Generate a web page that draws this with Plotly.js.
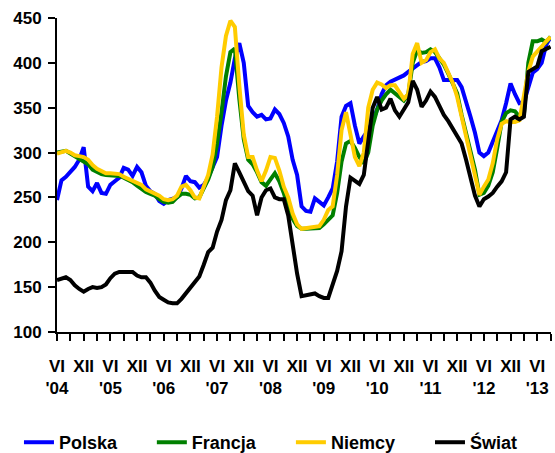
<!DOCTYPE html>
<html>
<head>
<meta charset="utf-8">
<script src="https://cdn.plot.ly/plotly-3.0.1.min.js"></script>
<style>html,body{margin:0;padding:0;background:#fff;}#chart{width:555px;height:453px;}</style>
</head>
<body>
<div id="chart"></div>
<script>
// month index 0 = June 2004 (VI '04), one point per month up to Sept 2013
var polska = [247,269,273,278,284,292,306,262,257,266,255,254,264,268,272,283,281,274,284,278,
  263,257,254,246,243,247,248,250,260,274,268,267,261,264,272,285,295,330,358,378,
  405,422,400,352,345,340,342,337,338,348,343,333,318,292,275,240,235,234,249,245,
  241,250,260,290,340,352,355,330,310,318,325,335,348,365,375,379,381,384,386,390,
  394,398,401,402,405,405,395,381,381,382,381,373,358,340,322,300,296,300,312,325,
  336,355,377,365,355,356,372,389,393,400,420,429];
var francja = [300,301,302,299,296,293,291,287,281,278,276,275,275,274,274,272,270,267,263,259,
  256,254,252,248,245,244,245,250,254,254,253,249,250,260,270,284,310,345,385,412,
  416,360,315,292,287,278,267,263,270,277,268,255,238,226,218,215,215,215,215,216,
  220,225,230,255,290,310,313,305,295,288,300,330,348,358,365,370,366,362,358,365,
  400,414,411,412,415,412,405,398,388,378,366,342,322,303,281,253,255,263,278,305,
  334,344,347,346,340,342,400,424,424,426,423,429];
var niemcy = [299,301,302,300,297,296,295,292,286,282,279,277,277,277,276,273,271,269,267,264,
  259,257,255,252,248,247,248,252,262,264,258,250,249,262,275,298,340,395,430,447,
  440,375,320,295,295,280,268,280,295,294,280,262,250,232,220,215,216,217,218,218,
  225,236,240,275,325,345,320,295,285,300,350,370,378,376,372,375,375,368,360,365,
  410,422,400,403,412,415,405,400,390,378,362,340,318,300,277,253,262,270,288,315,
  332,335,334,334,336,365,390,407,412,418,424,429];
var swiat = [158,159,161,158,152,148,145,148,150,149,150,153,160,165,167,167,167,167,163,161,
  161,155,146,139,136,133,132,132,137,143,149,155,162,175,189,194,212,225,247,258,
  288,278,268,257,252,230,250,258,260,250,248,248,230,195,165,140,141,141,143,140,
  138,138,152,168,190,240,272,268,265,275,311,350,362,348,350,360,347,340,348,356,
  380,370,351,358,368,362,352,342,335,326,318,310,292,272,252,240,248,251,255,262,
  268,278,337,340,337,340,390,393,396,413,416,418];

var seriesNames = ['Polska','Francja','Niemcy','Świat'];
var seriesColors = ['#0000FF','#008000','#FFCC00','#000000'];
var seriesData = [polska, francja, niemcy, swiat];

var monthTickLabels = ['VI','XII','VI','XII','VI','XII','VI','XII','VI','XII','VI','XII','VI','XII','VI','XII','VI','XII','VI'];
var yearTickLabels = ["'04","'05","'06","'07","'08","'09","'10","'11","'12","'13"];
var yTicks = [100,150,200,250,300,350,400,450];

var months = polska.map(function(_, i){ return i; });
var monthTickVals = monthTickLabels.map(function(_, i){ return i*6; });
var yearTickVals = yearTickLabels.map(function(_, i){ return i*12; });

var font = 'Arial, "Liberation Sans", sans-serif';
var legendIds = ['legend','legend2','legend3','legend4'];
var legendX = [-0.077, 0.192, 0.4735, 0.755];
var traces = seriesData.map(function(vals, k){
  return {x: months, y: vals, type: 'scatter', mode: 'lines', name: seriesNames[k],
    xaxis: k === 3 ? 'x2' : 'x', legend: legendIds[k],
    line: {color: seriesColors[k], width: 4}};
});
var xr = [0, 111.1];
var layout = {
  width: 555, height: 453,
  margin: {l: 57, r: 4, t: 18, b: 121, autoexpand: false},
  paper_bgcolor: '#fff', plot_bgcolor: '#fff',
  font: {family: font, size: 17, color: '#000'},
  showlegend: true,
  xaxis: {range: xr, showgrid: false, zeroline: false, showline: true, linecolor: '#000', linewidth: 2,
    tickmode: 'array', tickvals: monthTickVals, ticktext: monthTickLabels,
    ticks: 'outside', ticklen: 7, tickwidth: 2, tickcolor: '#000', ticklabelstandoff: 11,
    minor: {dtick: 3, tick0: 0, ticks: 'outside', ticklen: 7, tickwidth: 2, tickcolor: '#000', showgrid: false},
    tickfont: {family: font, size: 17, color: '#000', weight: 'bold'}, fixedrange: true},
  xaxis2: {range: xr, overlaying: 'x', anchor: 'y', side: 'bottom', showgrid: false, zeroline: false,
    showline: false, ticks: '', tickmode: 'array', tickvals: yearTickVals, ticktext: yearTickLabels,
    ticklabelstandoff: 44, tickfont: {family: font, size: 17, color: '#000', weight: 'bold'}, fixedrange: true},
  yaxis: {range: [100, 450], tickmode: 'array', tickvals: yTicks, showgrid: false, zeroline: false,
    showline: true, linecolor: '#000', linewidth: 2, ticks: 'outside', ticklen: 7, tickwidth: 2, tickcolor: '#000',
    ticklabelstandoff: 3,
    tickfont: {family: font, size: 17, color: '#000', weight: 'bold'}, fixedrange: true}
};
legendIds.forEach(function(id, k){
  layout[id] = {orientation: 'h', x: legendX[k], xanchor: 'left', y: -0.352, yanchor: 'middle',
    font: {family: font, size: 18, color: '#000', weight: 'bold'}, bgcolor: 'rgba(0,0,0,0)'};
});
Plotly.newPlot('chart', traces, layout, {displayModeBar: false, staticPlot: true});
</script>
</body>
</html>
